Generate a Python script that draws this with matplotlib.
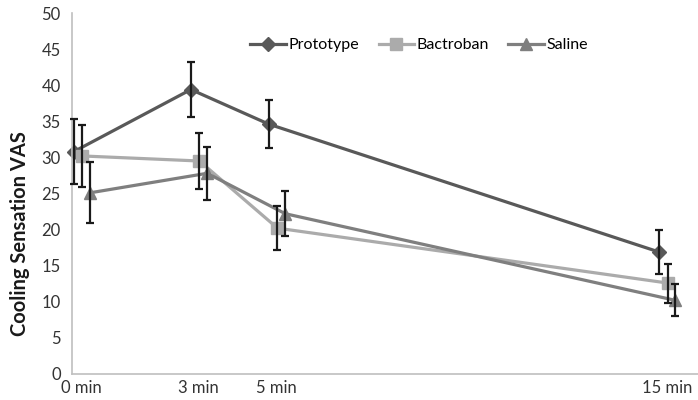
import numpy as np
import matplotlib.pyplot as plt

# Dados
tempos = [0, 3, 5, 15]
rotulos_x = ["0 min", "3 min", "5 min", "15 min"]

prototype = [30.8, 39.4, 34.6, 16.9]
prototype_err = [4.5, 3.8, 3.3, 3.0]

bactroban = [30.2, 29.5, 20.2, 12.6]
bactroban_err = [4.3, 3.9, 3.0, 2.7]

saline = [25.1, 27.8, 22.2, 10.2]
saline_err = [4.2, 3.7, 3.1, 2.2]

plt.rcParams['font.family'] = ['Lato', 'DejaVu Sans']

fig = plt.figure(figsize=(6.98, 4.0), dpi=100)
ax = fig.add_axes([0.103, 0.065, 0.897, 0.9025])

series = [
    ("Prototype", prototype, prototype_err, "#595959", "D", 7, 0.1),
    ("Bactroban", bactroban, bactroban_err, "#ababab", "s", 9, 0.32),
    ("Saline", saline, saline_err, "#7f7f7f", "^", 9, 0.52),
]

for nome, y, err, cor, marc, tam, desloc in series:
    x = np.array(tempos) + desloc
    ax.plot(x, y, color=cor, marker=marc, markersize=tam, linewidth=2.3,
            label=nome, zorder=2, clip_on=False)
    ax.errorbar(x, y, yerr=err, fmt="none", ecolor="#1a1a1a",
                elinewidth=1.6, capsize=3, capthick=1.6, zorder=3,
                clip_on=False)

ax.set_xlim(0.05, 16.1)
ax.set_ylim(0, 50)
ax.set_yticks(range(0, 51, 5))
ax.set_xticks(np.array(tempos) + 0.3)
ax.set_xticklabels(rotulos_x)
ax.tick_params(length=0, labelsize=12, colors="#333333")
ax.tick_params(axis="y", pad=8)
ax.tick_params(axis="x", pad=4)

for lado in ["top", "right"]:
    ax.spines[lado].set_visible(False)
for lado in ["left", "bottom"]:
    ax.spines[lado].set_color("#bfbfbf")
    ax.spines[lado].set_linewidth(1.2)

ax.set_ylabel("Cooling Sensation VAS", fontsize=14.5, fontweight="bold",
              color="#1a1a1a")
ax.yaxis.set_label_coords(-0.067, 0.39)

ax.legend(loc="upper center", bbox_to_anchor=(0.555, 0.97), ncol=3,
          frameon=False, fontsize=11.5, handlelength=2.2, columnspacing=1.2,
          handletextpad=0.2)

plt.savefig("out.png", dpi=100)
plt.close()
